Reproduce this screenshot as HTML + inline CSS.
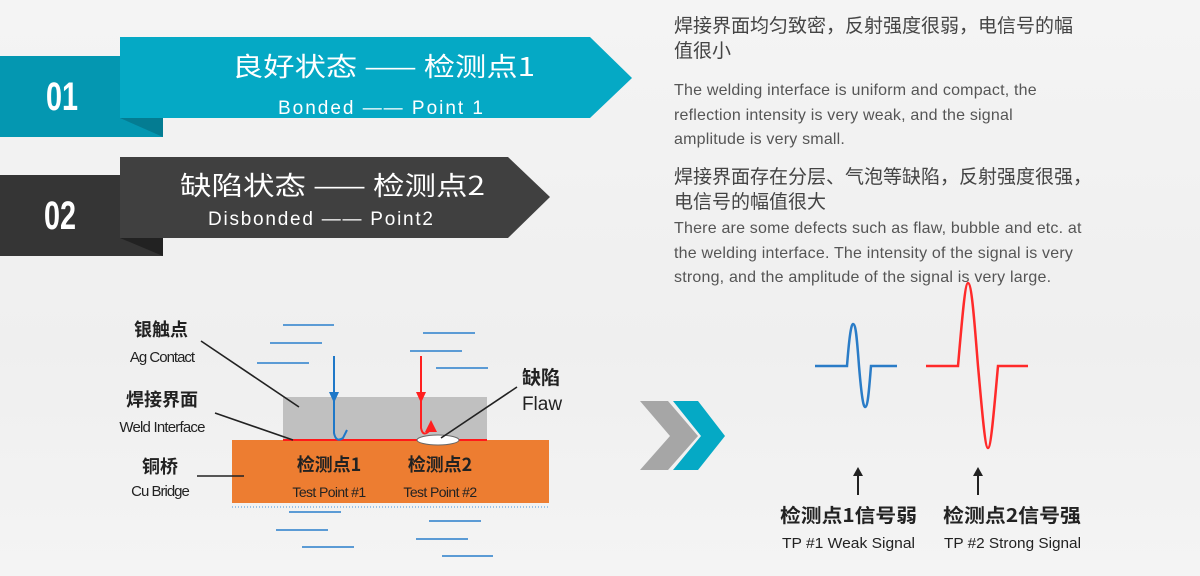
<!DOCTYPE html>
<html><head><meta charset="utf-8"><style>
body{margin:0;width:1200px;height:576px;overflow:hidden;background:linear-gradient(180deg,#f4f4f4,#efefef 60%,#f4f4f4);font-family:"Liberation Sans","Noto Sans CJK SC",sans-serif;}
svg{position:absolute;left:0;top:0}
.t{position:absolute;left:674px;color:#444;}
.cn{font-size:19px;line-height:25px;font-family:"Noto Sans CJK SC",sans-serif;}
.en{font-size:16px;line-height:24.5px;color:#555;letter-spacing:0.2px}
</style></head><body>
<svg width="1200" height="576" font-family="Liberation Sans, Noto Sans CJK SC, sans-serif">
<!-- banner 1 -->
<rect x="0" y="56" width="163" height="81" fill="#0497b1"/>
<polygon points="120,118 163,118 163,137" fill="#047c92"/>
<polygon points="120,37 590,37 632,78 590,118 120,118" fill="#05a9c5"/>
<text x="0" y="110" font-size="40" font-weight="bold" fill="#fff" transform="translate(46,0) scale(0.72,1)">01</text>
<text x="232" y="76" font-size="26" fill="#fff" textLength="303" lengthAdjust="spacingAndGlyphs" font-family="Noto Sans CJK SC, sans-serif">良好状态 —— 检测点1</text>
<text x="278" y="114" font-size="19" fill="#fff" textLength="205" lengthAdjust="spacing">Bonded  —— Point 1</text>
<!-- banner 2 -->
<rect x="0" y="175" width="163" height="81" fill="#353535"/>
<polygon points="120,238 163,238 163,256" fill="#222"/>
<polygon points="120,157 508,157 550,197 508,238 120,238" fill="#404040"/>
<text x="0" y="229" font-size="40" font-weight="bold" fill="#fff" transform="translate(44,0) scale(0.72,1)">02</text>
<text x="180" y="195" font-size="26" fill="#fff" textLength="305" lengthAdjust="spacingAndGlyphs" font-family="Noto Sans CJK SC, sans-serif">缺陷状态 —— 检测点2</text>
<text x="208" y="225" font-size="19" fill="#fff" textLength="225" lengthAdjust="spacing">Disbonded —— Point2</text>

<!-- diagram -->
<g stroke="#5b9bd5" stroke-width="2">
<line x1="283" y1="325" x2="334" y2="325"/><line x1="270" y1="343" x2="322" y2="343"/><line x1="257" y1="363" x2="309" y2="363"/>
<line x1="423" y1="333" x2="475" y2="333"/><line x1="410" y1="351" x2="462" y2="351"/><line x1="436" y1="368" x2="488" y2="368"/>
<line x1="289" y1="512" x2="341" y2="512"/><line x1="276" y1="530" x2="328" y2="530"/><line x1="302" y1="547" x2="354" y2="547"/>
<line x1="429" y1="521" x2="481" y2="521"/><line x1="416" y1="539" x2="468" y2="539"/><line x1="442" y1="556" x2="493" y2="556"/>
</g>
<line x1="232" y1="507" x2="549" y2="507" stroke="#9cc3e6" stroke-width="2" stroke-dasharray="1,2"/>
<rect x="283" y="397" width="204" height="43" fill="#c0c0c0"/>
<rect x="232" y="440" width="317" height="63" fill="#ed7d31"/>
<line x1="283" y1="440" x2="487" y2="440" stroke="#ff1a1a" stroke-width="2"/>
<ellipse cx="438" cy="440" rx="21" ry="5" fill="#fff" stroke="#666" stroke-width="1"/>
<path d="M334,356 V433 Q336,443 343,438 L347,430" stroke="#1f78c8" stroke-width="2" fill="none"/>
<polygon points="329,392 339,392 334,403" fill="#1f78c8"/>
<path d="M421,356 V428 Q423,438 430,430" stroke="#ff2020" stroke-width="2" fill="none"/>
<polygon points="416,392 426,392 421,403" fill="#ff2020"/>
<polygon points="431,420 437,432 425,432" fill="#ff2020"/>
<g stroke="#222" stroke-width="1.6">
<line x1="201" y1="341" x2="299" y2="407"/><line x1="215" y1="413" x2="293" y2="440"/><line x1="197" y1="476" x2="244" y2="476"/><line x1="517" y1="387" x2="441" y2="438"/>
</g>
<g fill="#222" font-family="Noto Sans CJK SC, sans-serif">
<text x="161" y="336" font-size="18" font-weight="bold" text-anchor="middle">银触点</text>
<text x="162" y="362" font-size="15" text-anchor="middle" letter-spacing="-1" font-family="Liberation Sans, sans-serif">Ag Contact</text>
<text x="162" y="406" font-size="18" font-weight="bold" text-anchor="middle">焊接界面</text>
<text x="162" y="432" font-size="15" text-anchor="middle" letter-spacing="-0.8" font-family="Liberation Sans, sans-serif">Weld Interface</text>
<text x="160" y="473" font-size="18" font-weight="bold" text-anchor="middle">铜桥</text>
<text x="160" y="496" font-size="15" text-anchor="middle" letter-spacing="-1" font-family="Liberation Sans, sans-serif">Cu Bridge</text>
<text x="541" y="384" font-size="19" font-weight="bold" text-anchor="middle">缺陷</text>
<text x="542" y="410" font-size="19" text-anchor="middle" font-family="Liberation Sans, sans-serif">Flaw</text>
<text x="329" y="471" font-size="18" font-weight="bold" text-anchor="middle">检测点1</text>
<text x="440" y="471" font-size="18" font-weight="bold" text-anchor="middle">检测点2</text>
<text x="329" y="497" font-size="14" text-anchor="middle" letter-spacing="-0.6" font-family="Liberation Sans, sans-serif">Test Point #1</text>
<text x="440" y="497" font-size="14" text-anchor="middle" letter-spacing="-0.6" font-family="Liberation Sans, sans-serif">Test Point #2</text>
</g>

<!-- chevrons -->
<polygon points="640,401 668,401 698,436 668,470 640,470 670,436" fill="#a6a6a6"/>
<polygon points="673,401 698,401 725,436 698,470 673,470 701,436" fill="#05a9c5"/>

<!-- signals -->
<path d="M815,366 H847 C849,340 851,324 853,324 C856,324 857,340 859,366 C861,390 863,407 865,407 C868,407 869,390 871,366 H897" stroke="#2a7cc7" stroke-width="2.5" fill="none"/>
<path d="M926,366 H958 C962,320 965,283 968,283 C972,283 975,330 978,366 C982,410 985,448 988,448 C991,448 994,410 998,366 H1028" stroke="#ff2a2a" stroke-width="2.5" fill="none"/>
<g fill="#222">
<line x1="858" y1="474" x2="858" y2="495" stroke="#222" stroke-width="2"/><polygon points="853,476 863,476 858,467"/>
<line x1="978" y1="474" x2="978" y2="495" stroke="#222" stroke-width="2"/><polygon points="973,476 983,476 978,467"/>
<text x="780" y="522" font-size="19" font-weight="bold" textLength="137" lengthAdjust="spacingAndGlyphs" font-family="Noto Sans CJK SC, sans-serif">检测点1信号弱</text>
<text x="943" y="522" font-size="19" font-weight="bold" textLength="138" lengthAdjust="spacingAndGlyphs" font-family="Noto Sans CJK SC, sans-serif">检测点2信号强</text>
<text x="782" y="548" font-size="15" textLength="133" lengthAdjust="spacingAndGlyphs">TP #1 Weak Signal</text>
<text x="944" y="548" font-size="15" textLength="137" lengthAdjust="spacingAndGlyphs">TP #2 Strong Signal</text>
</g>
</svg>
<div class="t cn" style="top:12px">焊接界面均匀致密，反射强度很弱，电信号的幅<br>值很小</div>
<div class="t en" style="top:79px">The welding interface is uniform and compact, the<br>reflection intensity is very weak, and the signal<br>amplitude is very small.</div>
<div class="t cn" style="top:163px">焊接界面存在分层、气泡等缺陷，反射强度很强，<br>电信号的幅值很大</div>
<div class="t en" style="top:217px">There are some defects such as flaw, bubble and etc. at<br>the welding interface. The intensity of the signal is very<br>strong, and the amplitude of the signal is very large.</div>
</body></html>
